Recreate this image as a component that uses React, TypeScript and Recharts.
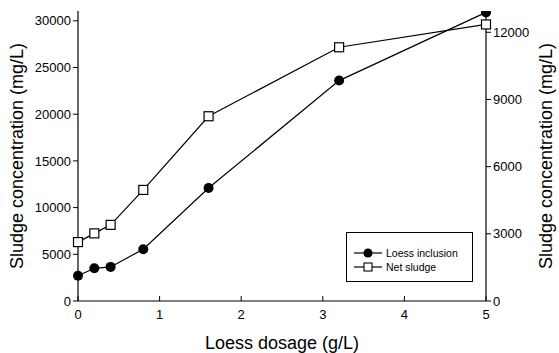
import React from 'react';
import { LineChart, Line, XAxis, YAxis, Legend } from 'recharts';

// Loess dosage (g/L)
const dosage = [0, 0.2, 0.4, 0.8, 1.6, 3.2, 5];
// sludge with loess included, left axis (mg/L)
const loessInclusion = [2700, 3500, 3650, 5550, 12100, 23600, 30900];
// net sludge, right axis (mg/L)
const netSludge = [2630, 3020, 3400, 4960, 8250, 11330, 12350];

const xTicks = [0, 1, 2, 3, 4, 5];
const leftTicks = [0, 5000, 10000, 15000, 20000, 25000, 30000];
const rightTicks = [0, 3000, 6000, 9000, 12000];

const data = dosage.map((d, i) => ({
  dosage: d,
  inclusion: loessInclusion[i],
  net: netSludge[i],
}));

const FONT = '"Liberation Sans", Arial, Helvetica, sans-serif';

const tickStyle = { fontSize: 13, fill: '#000', fontFamily: FONT };

// x ticks point into the plot, so draw the line by hand
const XTick = (props: any) => {
  const { x, y, payload } = props;
  const axisY = y - 9;
  return (
    <g>
      <line x1={x} x2={x} y1={axisY} y2={axisY - 5} stroke="#000" strokeWidth={1} />
      <text x={x} y={y} dy="0.71em" textAnchor="middle" {...tickStyle}>
        {payload.value}
      </text>
    </g>
  );
};

const SquareDot = (props: any) => {
  const { cx, cy, index } = props;
  if (cx == null || cy == null) return null;
  return (
    <rect
      key={`sq-${index}`}
      x={cx - 4.5}
      y={cy - 4.5}
      width={9}
      height={9}
      fill="#fff"
      stroke="#000"
      strokeWidth={1.2}
    />
  );
};

const renderLegend = () => (
  <div
    style={{
      border: '1px solid #000',
      width: 127,
      height: 50,
      boxSizing: 'border-box',
      background: '#fff',
    }}
  >
    <svg width={125} height={48} style={{ display: 'block' }}>
      <line x1={7} x2={35} y1={20} y2={20} stroke="#000" strokeWidth={1.2} />
      <circle cx={21} cy={20} r={4.5} fill="#000" />
      <text x={39} y={20} dy="0.35em" fontSize={10.5} fontFamily={FONT} fill="#000">
        Loess inclusion
      </text>
      <line x1={7} x2={35} y1={34} y2={34} stroke="#000" strokeWidth={1.2} />
      <rect x={17} y={30} width={8} height={8} fill="#fff" stroke="#000" strokeWidth={1.1} />
      <text x={39} y={34} dy="0.35em" fontSize={10.5} fontFamily={FONT} fill="#000">
        Net sludge
      </text>
    </svg>
  </div>
);

const yTitle = (cx: number) => (props: any) => {
  const { viewBox } = props;
  const cy = viewBox.y + viewBox.height / 2;
  return (
    <text
      x={cx}
      y={cy}
      transform={`rotate(-90, ${cx}, ${cy})`}
      textAnchor="middle"
      dominantBaseline="central"
      fontSize={18}
      fontFamily={FONT}
      fill="#000"
    >
      Sludge concentration (mg/L)
    </text>
  );
};

const App: React.FC = () => {
  return (
    <div style={{ position: 'absolute', left: 0, top: 0, background: '#fff' }}>
      <LineChart
        width={559}
        height={353}
        data={data}
        margin={{ top: 11, right: 0, bottom: 0, left: 0 }}
      >
        <XAxis
          dataKey="dosage"
          type="number"
          domain={[0, 5]}
          ticks={xTicks}
          height={52}
          axisLine={{ stroke: '#000', strokeWidth: 1.2 }}
          tickLine={false}
          tickSize={0}
          tickMargin={9}
          tick={<XTick />}
          label={{
            value: 'Loess dosage (g/L)',
            position: 'insideBottom',
            offset: 4,
            fontSize: 18,
            fontFamily: FONT,
            fill: '#000',
          }}
        />
        <XAxis
          xAxisId="top"
          dataKey="dosage"
          type="number"
          domain={[0, 5]}
          orientation="top"
          height={0}
          tick={false}
          tickLine={false}
          axisLine={{ stroke: '#000', strokeWidth: 1.2 }}
        />
        <YAxis
          yAxisId="left"
          domain={[0, 31050]}
          ticks={leftTicks}
          width={78}
          allowDataOverflow
          axisLine={{ stroke: '#000', strokeWidth: 1.2 }}
          tickLine={{ stroke: '#000' }}
          tickSize={5}
          tickMargin={2}
          tick={tickStyle}
          label={{ content: yTitle(17) }}
        />
        <YAxis
          yAxisId="right"
          orientation="right"
          domain={[0, 12950]}
          ticks={rightTicks}
          width={73}
          allowDataOverflow
          axisLine={{ stroke: '#000', strokeWidth: 1.2 }}
          tickLine={{ stroke: '#000' }}
          tickSize={5}
          tickMargin={2}
          tick={tickStyle}
          label={{ content: yTitle(546) }}
        />
        <Line
          yAxisId="left"
          dataKey="inclusion"
          name="Loess inclusion"
          stroke="#000"
          strokeWidth={1.2}
          dot={{ r: 5, fill: '#000', stroke: '#000', strokeWidth: 0 }}
          isAnimationActive={false}
        />
        <Line
          yAxisId="right"
          dataKey="net"
          name="Net sludge"
          stroke="#000"
          strokeWidth={1.2}
          dot={SquareDot}
          isAnimationActive={false}
        />
        <Legend
          verticalAlign="middle"
          content={renderLegend}
          wrapperStyle={{ position: 'absolute', left: 346, top: 232, width: 127, height: 50 }}
        />
      </LineChart>
    </div>
  );
};

export default App;
